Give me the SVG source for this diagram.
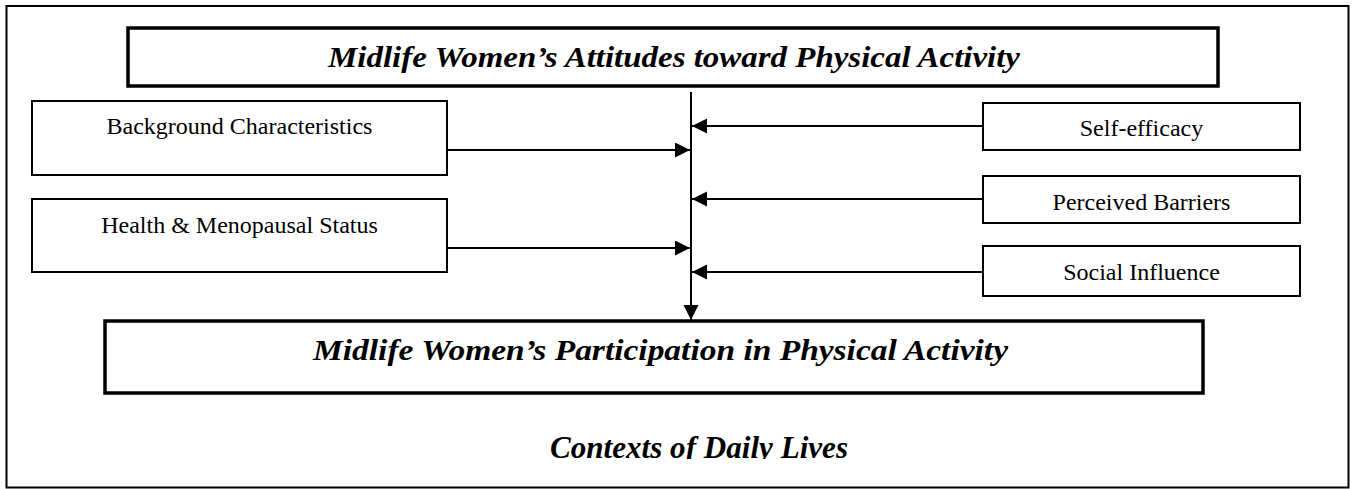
<svg xmlns="http://www.w3.org/2000/svg" width="1357" height="489" viewBox="0 0 1357 489">
<style>
.frame{fill:none;stroke:#000;stroke-width:2}
.box{fill:#fff;stroke:#000;stroke-width:2}
.bigbox{fill:#fff;stroke:#000;stroke-width:3.5}
.lbl{font-family:"Liberation Serif","Times New Roman",serif;font-size:24px;fill:#000;text-anchor:middle}
.big{font-family:"Liberation Serif","Times New Roman",serif;font-size:29px;font-weight:bold;font-style:italic;fill:#000}
.conn{stroke:#000;stroke-width:2;fill:none}
</style>
<defs>
<marker id="ah" markerUnits="userSpaceOnUse" markerWidth="16" markerHeight="16" viewBox="0 0 16 16" refX="15" refY="7.5" orient="auto">
<path d="M0,0 L15,7.5 L0,15 z" fill="#000"/>
</marker>
<clipPath id="clipCtx"><rect x="0" y="0" width="1357" height="459"/></clipPath>
</defs>
<rect id="frame" class="frame" x="6.5" y="6" width="1342" height="481.5"/>
<g id="attitudes">
<rect class="bigbox" x="128" y="28" width="1090" height="58"/>
<text class="big" x="328" y="67" textLength="692" lengthAdjust="spacingAndGlyphs">Midlife Women’s Attitudes toward Physical Activity</text>
</g>
<g id="background">
<rect class="box" x="32" y="101" width="415" height="74"/>
<text class="lbl" x="239.5" y="134">Background Characteristics</text>
</g>
<g id="health">
<rect class="box" x="32" y="199" width="415" height="73"/>
<text class="lbl" x="239.5" y="233">Health &amp; Menopausal Status</text>
</g>
<g id="selfefficacy">
<rect class="box" x="983" y="103" width="317" height="47"/>
<text class="lbl" x="1141.5" y="136">Self-efficacy</text>
</g>
<g id="barriers">
<rect class="box" x="983" y="176" width="317" height="47"/>
<text class="lbl" x="1141.5" y="210">Perceived Barriers</text>
</g>
<g id="social">
<rect class="box" x="983" y="246" width="317" height="50"/>
<text class="lbl" x="1141.5" y="280">Social Influence</text>
</g>
<g id="participation">
<rect class="bigbox" x="105" y="321" width="1098" height="72"/>
<text class="big" x="313" y="360" textLength="695" lengthAdjust="spacingAndGlyphs">Midlife Women’s Participation in Physical Activity</text>
</g>
<g id="contexts">
<text class="big" x="550" y="458" font-size="31" style="font-size:31px" textLength="298" lengthAdjust="spacingAndGlyphs" clip-path="url(#clipCtx)">Contexts of Daily Lives</text>
</g>
<g id="connectors">
<line class="conn" x1="691" y1="92" x2="691" y2="320" marker-end="url(#ah)"/>
<line class="conn" x1="447" y1="150" x2="690" y2="150" marker-end="url(#ah)"/>
<line class="conn" x1="447" y1="248" x2="690" y2="248" marker-end="url(#ah)"/>
<line class="conn" x1="983" y1="126" x2="692" y2="126" marker-end="url(#ah)"/>
<line class="conn" x1="983" y1="199" x2="692" y2="199" marker-end="url(#ah)"/>
<line class="conn" x1="983" y1="272" x2="692" y2="272" marker-end="url(#ah)"/>
</g>
</svg>
